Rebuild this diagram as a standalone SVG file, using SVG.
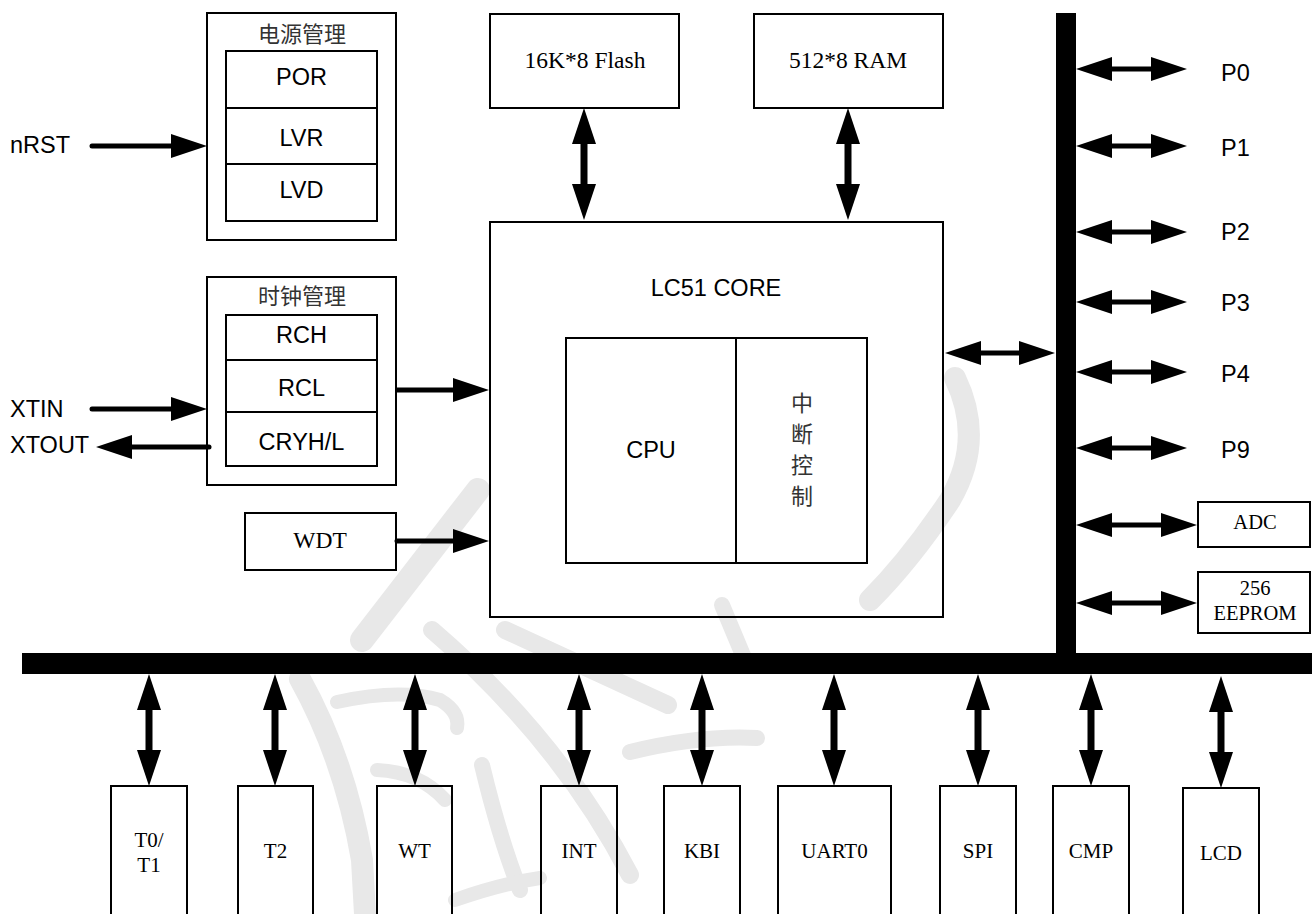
<svg xmlns="http://www.w3.org/2000/svg" width="1312" height="914" viewBox="0 0 1312 914">
<style>
.box{fill:none;stroke:#000;stroke-width:2}
.sans{font-family:"Liberation Sans",Arial,sans-serif;font-size:23.5px;fill:#000}
.serif{font-family:"Liberation Serif","Times New Roman",serif;font-size:23.5px;fill:#000}
.sm{font-size:21px}
.xs{font-size:20.5px}
.cjk{font-family:"Noto Sans CJK SC",sans-serif;font-size:22px;fill:#333}
.c{text-anchor:middle}
.h{stroke:#000;stroke-width:5;fill:none}
.v{stroke:#000;stroke-width:7;fill:none}
.wm{stroke:#e8e8e8;fill:none;stroke-linecap:round}
</style>
<defs>
<marker id="ah" markerUnits="userSpaceOnUse" viewBox="0 0 36 24" markerWidth="36" markerHeight="24" refX="24" refY="12" orient="auto-start-reverse">
<path d="M0,0 L36,12 L0,24 Z" fill="#000"/>
</marker>
</defs>
<rect width="1312" height="914" fill="#fff"/>
<g id="watermark">
<path class="wm" stroke-width="24" d="M478 490 Q420 565 362 640"/>
<path class="wm" stroke-width="22" d="M300 679 Q345 760 362 860 L365 914"/>
<path class="wm" stroke-width="14" d="M337 702 Q400 688 440 700 Q460 712 457 728"/>
<path class="wm" stroke-width="14" d="M377 770 Q420 772 445 800"/>
<path class="wm" stroke-width="16" d="M482 765 Q500 840 520 890"/>
<path class="wm" stroke-width="14" d="M455 900 Q500 884 540 878"/>
<path class="wm" stroke-width="18" d="M432 630 Q560 740 630 875"/>
<path class="wm" stroke-width="18" d="M505 630 L668 705"/>
<path class="wm" stroke-width="16" d="M630 752 Q700 735 757 738"/>
<path class="wm" stroke-width="16" d="M722 605 L745 660"/>
<path class="wm" stroke-width="22" d="M955 378 Q985 440 950 500 Q910 560 870 600"/>
</g>
<g id="buses">
<rect x="1056" y="13" width="20" height="661" fill="#000"/>
<rect x="22" y="653" width="1290" height="21" fill="#000"/>
</g>
<g id="power">
<rect class="box" x="207" y="13" width="189" height="227"/>
<text class="cjk c" x="302" y="42">电源管理</text>
<rect class="box" x="226" y="51" width="151" height="170"/>
<line class="box" x1="226" y1="108" x2="377" y2="108"/>
<line class="box" x1="226" y1="164" x2="377" y2="164"/>
<text class="sans c" x="301.5" y="85">POR</text>
<text class="sans c" x="301.5" y="146">LVR</text>
<text class="sans c" x="301.5" y="198">LVD</text>
</g>
<g id="clock">
<rect class="box" x="207" y="277" width="189" height="208"/>
<text class="cjk c" x="302" y="304">时钟管理</text>
<rect class="box" x="226" y="315" width="151" height="151"/>
<line class="box" x1="226" y1="360" x2="377" y2="360"/>
<line class="box" x1="226" y1="412" x2="377" y2="412"/>
<text class="sans c" x="301.5" y="343">RCH</text>
<text class="sans c" x="301.5" y="396">RCL</text>
<text class="sans c" x="301.5" y="450">CRYH/L</text>
</g>
<g id="wdt">
<rect class="box" x="245" y="513" width="151" height="57"/>
<text class="serif c" x="320" y="548">WDT</text>
</g>
<g id="flash">
<rect class="box" x="490" y="14" width="189" height="94"/>
<text class="serif c" x="585" y="68">16K*8 Flash</text>
</g>
<g id="ram">
<rect class="box" x="754" y="14" width="189" height="94"/>
<text class="serif c" x="848" y="68">512*8 RAM</text>
</g>
<g id="core">
<rect class="box" x="490" y="222" width="453" height="395"/>
<text class="sans c" x="716" y="296">LC51 CORE</text>
<rect class="box" x="566" y="338" width="301" height="225"/>
<line class="box" x1="736" y1="338" x2="736" y2="563"/>
<text class="sans c" x="651" y="458">CPU</text>
<text class="cjk c" x="802" y="411" font-size="21">中</text>
<text class="cjk c" x="802" y="442" font-size="21">断</text>
<text class="cjk c" x="802" y="473" font-size="21">控</text>
<text class="cjk c" x="802" y="504" font-size="21">制</text>
</g>
<g id="labels">
<text class="sans" x="10" y="153">nRST</text>
<text class="sans" x="10" y="417">XTIN</text>
<text class="sans" x="10" y="453">XTOUT</text>
<text class="sans" x="1221" y="81">P0</text>
<text class="sans" x="1221" y="156">P1</text>
<text class="sans" x="1221" y="240">P2</text>
<text class="sans" x="1221" y="311">P3</text>
<text class="sans" x="1221" y="382">P4</text>
<text class="sans" x="1221" y="458">P9</text>
</g>
<g id="adc">
<rect class="box" x="1198" y="502" width="112" height="45"/>
<text class="serif xs c" x="1255" y="529">ADC</text>
</g>
<g id="eeprom">
<rect class="box" x="1198" y="572" width="112" height="61"/>
<text class="serif xs c" x="1255" y="595">256</text>
<text class="serif xs c" x="1255" y="620">EEPROM</text>
</g>
<g id="t0t1"><rect class="box" x="111" y="786" width="76" height="140"/>
<text class="serif sm c" x="149" y="847">T0/</text><text class="serif sm c" x="149" y="872">T1</text></g>
<g id="t2"><rect class="box" x="238" y="786" width="75" height="140"/><text class="serif sm c" x="275.5" y="858">T2</text></g>
<g id="wt"><rect class="box" x="377" y="786" width="75" height="140"/><text class="serif sm c" x="414.5" y="858">WT</text></g>
<g id="int"><rect class="box" x="541" y="786" width="76" height="140"/><text class="serif sm c" x="579" y="858">INT</text></g>
<g id="kbi"><rect class="box" x="664" y="786" width="76" height="140"/><text class="serif sm c" x="702" y="858">KBI</text></g>
<g id="uart0"><rect class="box" x="778" y="786" width="113" height="140"/><text class="serif sm c" x="834.5" y="858">UART0</text></g>
<g id="spi"><rect class="box" x="940" y="786" width="76" height="140"/><text class="serif sm c" x="978" y="858">SPI</text></g>
<g id="cmp"><rect class="box" x="1053" y="786" width="76" height="140"/><text class="serif sm c" x="1091" y="858">CMP</text></g>
<g id="lcd"><rect class="box" x="1183" y="788" width="76" height="140"/><text class="serif sm c" x="1221" y="860">LCD</text></g>
<g id="connectors">
<line class="h" stroke-linecap="round" x1="92" y1="146" x2="195" y2="146" marker-end="url(#ah)"/>
<line class="h" stroke-linecap="round" x1="92" y1="409" x2="195" y2="409" marker-end="url(#ah)"/>
<line class="h" stroke-linecap="round" x1="209" y1="447" x2="108" y2="447" marker-end="url(#ah)"/>
<line class="h" x1="397" y1="390" x2="477" y2="390" marker-end="url(#ah)"/>
<line class="h" stroke-linecap="round" x1="397" y1="541" x2="477" y2="541" marker-end="url(#ah)"/>
<line class="v" x1="584" y1="120" x2="584" y2="208" marker-start="url(#ah)" marker-end="url(#ah)"/>
<line class="v" x1="848" y1="120" x2="848" y2="208" marker-start="url(#ah)" marker-end="url(#ah)"/>
<line class="h" x1="957" y1="353" x2="1043" y2="353" marker-start="url(#ah)" marker-end="url(#ah)"/>
<line class="h" x1="1088" y1="69" x2="1175" y2="69" marker-start="url(#ah)" marker-end="url(#ah)"/>
<line class="h" x1="1088" y1="146" x2="1175" y2="146" marker-start="url(#ah)" marker-end="url(#ah)"/>
<line class="h" x1="1088" y1="232" x2="1175" y2="232" marker-start="url(#ah)" marker-end="url(#ah)"/>
<line class="h" x1="1088" y1="302" x2="1175" y2="302" marker-start="url(#ah)" marker-end="url(#ah)"/>
<line class="h" x1="1088" y1="372" x2="1175" y2="372" marker-start="url(#ah)" marker-end="url(#ah)"/>
<line class="h" x1="1088" y1="448" x2="1175" y2="448" marker-start="url(#ah)" marker-end="url(#ah)"/>
<line class="h" x1="1088" y1="525" x2="1185" y2="525" marker-start="url(#ah)" marker-end="url(#ah)"/>
<line class="h" x1="1088" y1="603" x2="1185" y2="603" marker-start="url(#ah)" marker-end="url(#ah)"/>
<line class="v" x1="149" y1="686" x2="149" y2="774" marker-start="url(#ah)" marker-end="url(#ah)"/>
<line class="v" x1="275" y1="686" x2="275" y2="774" marker-start="url(#ah)" marker-end="url(#ah)"/>
<line class="v" x1="415" y1="686" x2="415" y2="774" marker-start="url(#ah)" marker-end="url(#ah)"/>
<line class="v" x1="579" y1="686" x2="579" y2="774" marker-start="url(#ah)" marker-end="url(#ah)"/>
<line class="v" x1="702" y1="686" x2="702" y2="774" marker-start="url(#ah)" marker-end="url(#ah)"/>
<line class="v" x1="834" y1="686" x2="834" y2="774" marker-start="url(#ah)" marker-end="url(#ah)"/>
<line class="v" x1="978" y1="686" x2="978" y2="774" marker-start="url(#ah)" marker-end="url(#ah)"/>
<line class="v" x1="1091" y1="686" x2="1091" y2="774" marker-start="url(#ah)" marker-end="url(#ah)"/>
<line class="v" x1="1221" y1="688" x2="1221" y2="776" marker-start="url(#ah)" marker-end="url(#ah)"/>
</g>
</svg>
